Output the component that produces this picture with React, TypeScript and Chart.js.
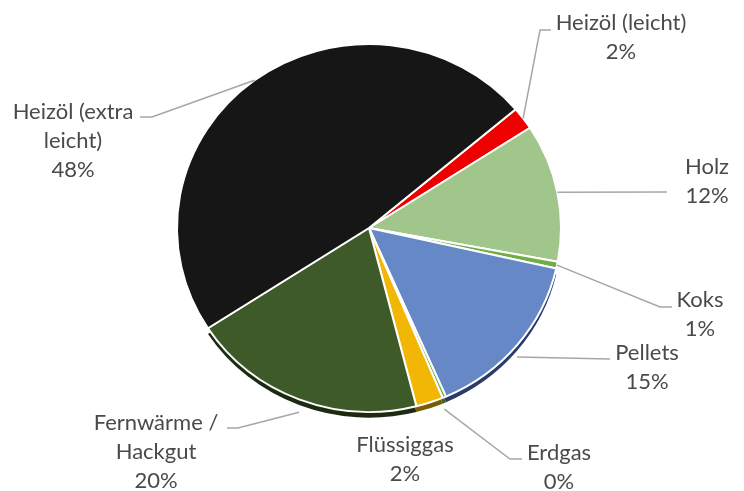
import React, { useEffect, useRef } from 'react';
import { Chart, registerables } from 'chart.js';

Chart.register(...registerables);

// ---- data ----
const categories = [
  'Heizöl (leicht)',
  'Holz',
  'Koks',
  'Pellets',
  'Erdgas',
  'Flüssiggas',
  'Fernwärme / Hackgut',
  'Heizöl (extra leicht)',
];
const labelLines = [
  ['Heizöl (leicht)'],
  ['Holz'],
  ['Koks'],
  ['Pellets'],
  ['Erdgas'],
  ['Flüssiggas'],
  ['Fernwärme /', 'Hackgut'],
  ['Heizöl (extra', 'leicht)'],
];
const shares = [2.0, 12.1, 0.6, 14.9, 0.3, 2.3, 19.8, 48.0];

// ---- styles ----
const faceColors = ['#EE0000', '#A1C68B', '#70AD47', '#6788C7', '#70AD47', '#F2B705', '#3E5A29', '#161616'];
const sideColors = [null, null, null, '#2A3C66', '#3D6326', '#7A5C03', '#1C2A12', null];

// label layout (text centre x, first-line centre y, anchor offset, leader path)
const labelLayout = [
  { tx: 621, ty: 23, dy: 0, path: [[540, 30], [551, 30]] },
  { tx: 707, ty: 167, dy: 0, path: [[667, 192]] },
  { tx: 700, ty: 300, dy: 0, path: [[660, 307], [672, 307]] },
  { tx: 647, ty: 353, dy: 12, path: [[610, 359]] },
  { tx: 559, ty: 453, dy: 12, path: [[510, 459], [522, 459]] },
  { tx: 405, ty: 445, dy: 0, path: null },
  { tx: 156, ty: 423, dy: 13, path: [[238, 428], [227, 428]] },
  { tx: 73, ty: 112, dy: 0, path: [[152, 117], [140, 117]] },
];

const SY = 183 / 191;
const DEPTH = 6;
const LINE_H = 29;

export default function App() {
  const ref = useRef<HTMLCanvasElement | null>(null);

  useEffect(() => {
    document.body.style.margin = '0';
    const canvas = ref.current;
    if (!canvas) return;
    const total = shares.reduce((a, b) => a + b, 0);

    const piePlugin = {
      id: 'pie3d',
      beforeDatasetsDraw(chart: any) {
        const ctx = chart.ctx;
        const meta = chart.getDatasetMeta(0);
        const first = meta.data[0];
        const cx = first.x;
        const cy = first.y;
        ctx.save();
        ctx.translate(cx, cy);
        ctx.scale(1, SY);
        ctx.translate(-cx, -cy);
        // extrusion sides
        meta.data.forEach((arc: any, i: number) => {
          const col = sideColors[i];
          if (!col) return;
          const { x, y, startAngle, endAngle, outerRadius } = arc.getProps(['x', 'y', 'startAngle', 'endAngle', 'outerRadius'], true);
          ctx.beginPath();
          ctx.moveTo(x, y + DEPTH);
          ctx.arc(x, y + DEPTH, outerRadius, startAngle, endAngle);
          ctx.closePath();
          ctx.fillStyle = col;
          ctx.fill();
        });
      },
      afterDatasetsDraw(chart: any) {
        const ctx = chart.ctx;
        ctx.restore();
        const meta = chart.getDatasetMeta(0);
        ctx.save();
        ctx.font = '22px Lato';
        ctx.fillStyle = '#4A4A4A';
        ctx.textAlign = 'center';
        ctx.textBaseline = 'middle';
        meta.data.forEach((arc: any, i: number) => {
          const { x, y, startAngle, endAngle, outerRadius } = arc.getProps(['x', 'y', 'startAngle', 'endAngle', 'outerRadius'], true);
          const lay = labelLayout[i];
          if (lay.path) {
            const mid = (startAngle + endAngle) / 2;
            const sx = x + outerRadius * Math.cos(mid);
            const sy = y + outerRadius * Math.sin(mid) * SY + lay.dy;
            ctx.beginPath();
            ctx.moveTo(sx, sy);
            lay.path.forEach((p) => ctx.lineTo(p[0], p[1]));
            ctx.strokeStyle = '#A6A6A6';
            ctx.lineWidth = 1.5;
            ctx.stroke();
          }
          const pct = Math.round((shares[i] / total) * 100) + '%';
          const lines = [...labelLines[i], pct];
          lines.forEach((t, k) => {
            ctx.fillText(t, lay.tx, lay.ty + k * LINE_H);
          });
        });
        ctx.restore();
      },
    };

    const chart = new Chart(canvas, {
      type: 'pie',
      data: {
        labels: categories,
        datasets: [
          {
            data: shares,
            backgroundColor: faceColors,
            borderColor: '#FFFFFF',
            borderWidth: 2,
          },
        ],
      },
      options: {
        responsive: false,
        maintainAspectRatio: false,
        animation: false,
        rotation: 49.8,
        layout: { padding: { left: 176, right: 182, top: 35, bottom: 70 } },
        plugins: {
          legend: { display: false },
          tooltip: { enabled: false },
        },
      },
      plugins: [piePlugin],
    });
    return () => chart.destroy();
  }, []);

  return (
    <div style={{ width: 744, height: 491, background: '#fff' }}>
      <canvas ref={ref} width={744} height={491} style={{ display: 'block' }} />
    </div>
  );
}
